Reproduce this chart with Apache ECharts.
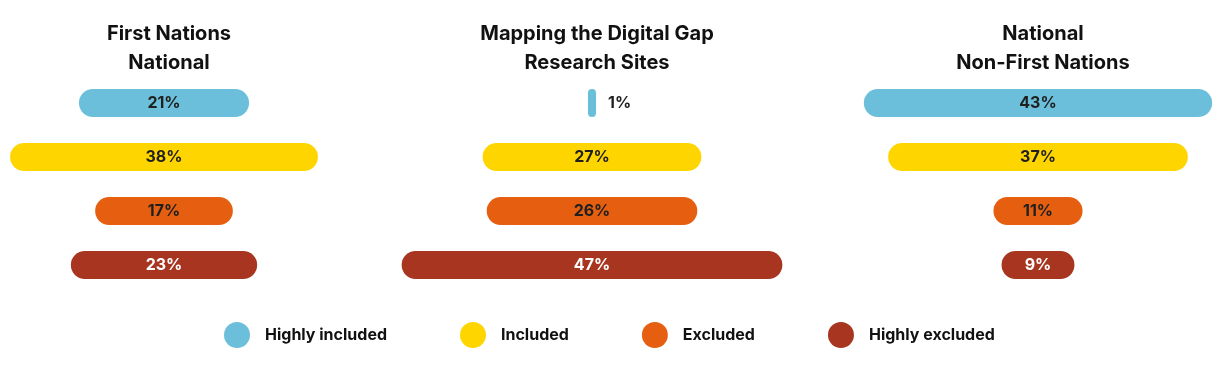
<!DOCTYPE html>
<html>
<head>
<meta charset="utf-8">
<script src="https://cdn.jsdelivr.net/npm/echarts@6/dist/echarts.min.js"></script>
<style>
html,body{margin:0;padding:0;background:#fff;}
#c{width:1220px;height:370px;}
</style>
</head>
<body>
<div id="c"></div>
<script>
const categories = ['Highly included', 'Included', 'Excluded', 'Highly excluded'];
const panelTitles = ['First Nations\nNational', 'Mapping the Digital Gap\nResearch Sites', 'National\nNon-First Nations'];
const firstNationsNational = [21, 38, 17, 23];
const researchSites = [1, 27, 26, 47];
const nonFirstNations = [43, 37, 11, 9];
const colors = ['#6BBFDA', '#FFD500', '#E65F10', '#A8351F'];
const labelColors = ['#1f1f1f', '#1f1f1f', '#1f1f1f', '#ffffff'];

const panels = [firstNationsNational, researchSites, nonFirstNations];
const pxPerPct = 8.1;
const centers = [164, 592, 1038];
const axisMax = [40, 48, 44];
const FONT = 'Inter, "Noto Sans", sans-serif';

const grids = [], xAxes = [], yAxes = [], series = [], titles = [];
panels.forEach((vals, p) => {
  const w = axisMax[p] * pxPerPct;
  grids.push({ left: centers[p] - w / 2, width: w, top: 76, height: 216 });
  xAxes.push({ gridIndex: p, type: 'value', min: 0, max: axisMax[p], show: false });
  yAxes.push({ gridIndex: p, type: 'category', data: categories, inverse: true, show: false });
  titles.push({
    text: panelTitles[p], left: centers[p], top: 14, textAlign: 'center',
    textStyle: { fontFamily: FONT, fontSize: 20, fontWeight: 700, color: '#111', lineHeight: 29 }
  });
  series.push({
    type: 'bar', xAxisIndex: p, yAxisIndex: p, stack: 's' + p, silent: true,
    barWidth: 28, itemStyle: { color: 'transparent' },
    data: vals.map(v => (axisMax[p] - v) / 2)
  });
  categories.forEach((cat, k) => {
    const v = vals[k];
    series.push({
      name: cat, type: 'bar', xAxisIndex: p, yAxisIndex: p, stack: 's' + p,
      barWidth: 28,
      itemStyle: { color: colors[k], borderRadius: 14 },
      label: {
        show: true,
        position: v < 3 ? 'right' : 'inside',
        distance: 12,
        formatter: '{c}%',
        fontFamily: FONT, fontSize: 16, fontWeight: 700,
        color: v < 3 ? '#1f1f1f' : labelColors[k]
      },
      data: categories.map((c, i) => i === k ? v : '-')
    });
  });
});

const chart = echarts.init(document.getElementById('c'), null, { renderer: 'canvas' });
chart.setOption({
  backgroundColor: '#fff',
  animation: false,
  title: titles,
  legend: {
    data: categories.map((c, k) => ({ name: c, itemStyle: { color: colors[k] } })),
    left: 219, top: 317, icon: 'circle', itemWidth: 26, itemHeight: 26, itemGap: 73,
    selectedMode: false,
    textStyle: { fontFamily: FONT, fontSize: 16, fontWeight: 700, color: '#111', padding: [0, 0, 0, 10] }
  },
  grid: grids,
  xAxis: xAxes,
  yAxis: yAxes,
  series: series
});
</script>
</body>
</html>
